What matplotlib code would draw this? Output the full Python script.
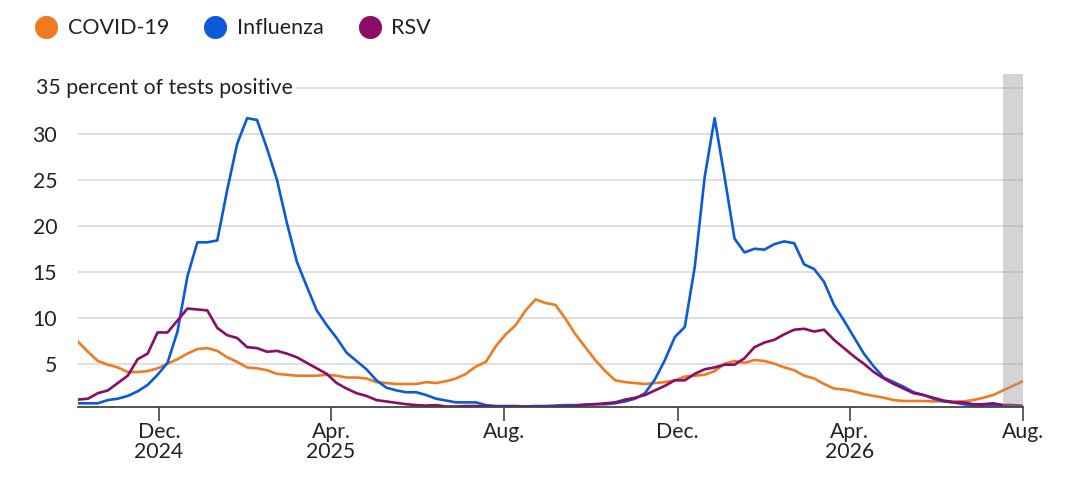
import pandas as pd
import matplotlib
matplotlib.use("Agg")
import matplotlib.pyplot as plt
from matplotlib.lines import Line2D
from matplotlib.transforms import blended_transform_factory

plt.rcParams['font.family'] = ['Lato', 'DejaVu Sans']

# weekly data, week ending Saturday
dates = pd.date_range('2024-10-05', '2026-08-01', freq='7D')

covid = [7.4, 6.3, 5.3, 4.9, 4.6, 4.1, 4.1, 4.2, 4.5, 5.0,
         5.5, 6.1, 6.6, 6.7, 6.4, 5.7, 5.2, 4.6, 4.5, 4.3,
         3.9, 3.8, 3.7, 3.7, 3.7, 3.8, 3.7, 3.5, 3.5, 3.4,
         3.0, 2.9, 2.8, 2.8, 2.8, 3.0, 2.9, 3.1, 3.4, 3.9,
         4.7, 5.2, 6.9, 8.2, 9.2, 10.8, 12.0, 11.6, 11.4, 9.9,
         8.2, 6.8, 5.4, 4.2, 3.2, 3.0, 2.9, 2.8, 2.9, 3.0,
         3.2, 3.6, 3.7, 3.8, 4.2, 5.0, 5.3, 5.1, 5.4, 5.3,
         5.0, 4.6, 4.3, 3.7, 3.4, 2.8, 2.3, 2.2, 2.0, 1.7,
         1.5, 1.3, 1.05, 0.95, 0.95, 0.95, 0.9, 0.95, 0.9, 0.9,
         1.05, 1.3, 1.6, 2.1, 2.6, 3.1]

influenza = [0.7, 0.7, 0.7, 1.05, 1.2, 1.5, 2.0, 2.7, 3.8, 5.1,
             8.5, 14.5, 18.2, 18.2, 18.4, 23.9, 28.9, 31.7, 31.5, 28.4,
             25.0, 20.3, 16.1, 13.4, 10.8, 9.2, 7.8, 6.2, 5.3, 4.4,
             3.2, 2.4, 2.1, 1.9, 1.9, 1.6, 1.2, 1.0, 0.8, 0.8,
             0.8, 0.5, 0.4, 0.4, 0.4, 0.35, 0.4, 0.4, 0.45, 0.5,
             0.5, 0.55, 0.6, 0.6, 0.7, 0.9, 1.2, 1.8, 3.3, 5.4,
             7.9, 9.0, 15.5, 25.3, 31.7, 25.3, 18.6, 17.1, 17.5, 17.4,
             18.0, 18.3, 18.1, 15.8, 15.3, 13.9, 11.4, 9.7, 7.9, 6.1,
             4.7, 3.5, 3.0, 2.5, 1.9, 1.6, 1.2, 0.9, 0.8, 0.6,
             0.45, 0.45, 0.5, 0.5, 0.5, 0.4]

rsv = [1.1, 1.2, 1.8, 2.1, 2.9, 3.7, 5.5, 6.1, 8.4, 8.4,
       9.7, 11.0, 10.9, 10.8, 8.9, 8.1, 7.8, 6.8, 6.7, 6.3,
       6.4, 6.1, 5.7, 5.1, 4.5, 3.9, 2.9, 2.3, 1.8, 1.5,
       1.05, 0.9, 0.75, 0.6, 0.5, 0.45, 0.5, 0.35, 0.35, 0.4,
       0.4, 0.35, 0.33, 0.35, 0.35, 0.33, 0.33, 0.33, 0.33, 0.35,
       0.4, 0.55, 0.6, 0.7, 0.8, 1.1, 1.3, 1.6, 2.1, 2.6,
       3.2, 3.2, 3.9, 4.4, 4.6, 4.9, 4.9, 5.6, 6.8, 7.3,
       7.6, 8.2, 8.7, 8.8, 8.5, 8.7, 7.6, 6.7, 5.8, 5.0,
       4.1, 3.4, 2.8, 2.3, 1.8, 1.6, 1.3, 1.0, 0.8, 0.8,
       0.6, 0.6, 0.7, 0.5, 0.5, 0.4]

series_names = ['COVID-19', 'Influenza', 'RSV']
series_colors = ['#f07a1f', '#0b5ad9', '#8a0c66']

tick_dates = pd.to_datetime(['2024-12-01', '2025-04-01', '2025-08-01',
                             '2025-12-01', '2026-04-01', '2026-08-01'])
tick_labels = ['Dec.\n2024', 'Apr.\n2025', 'Aug.', 'Dec.', 'Apr.\n2026', 'Aug.']
y_ticks = [5, 10, 15, 20, 25, 30]

text_color = '#222222'

fig = plt.figure(figsize=(10.8, 4.86), dpi=100)
ax = fig.add_axes([78 / 1080, 1 - 406.7 / 486, 945 / 1080, (406.7 - 74) / 486])

for vals, name, col in zip([covid, influenza, rsv], series_names, series_colors):
    ax.plot(dates, vals, color=col, lw=1.9, label=name, zorder=3)

# shaded provisional weeks at the end
ax.axvspan(dates[-1] - pd.Timedelta(days=14), dates[-1], color='#9a9a9a',
           alpha=0.42, lw=0, zorder=4)

ax.set_xlim(dates[0], dates[-1])
ax.set_ylim(0.33, 36.5)

# gridlines
for y in y_ticks + [35]:
    ax.axhline(y, color='#dcdcdc', lw=1.3, zorder=1)

ax.set_yticks(y_ticks)
ax.set_yticklabels([str(v) for v in y_ticks])
ax.tick_params(axis='y', length=0, pad=15, labelsize=15.3, labelcolor=text_color)

trans = blended_transform_factory(fig.transFigure, ax.transData)
ax.text(36 / 1080, 35, '35 percent of tests positive', transform=trans,
        ha='left', va='center', fontsize=15.3, color=text_color, zorder=5,
        bbox=dict(facecolor='white', edgecolor='none', pad=2))

ax.set_xticks(tick_dates)
ax.set_xticklabels(tick_labels, linespacing=1.0)
ax.tick_params(axis='x', length=10, width=1.2, color='#444444', pad=1,
               labelsize=15.3, labelcolor=text_color)

for s in ['top', 'right', 'left']:
    ax.spines[s].set_visible(False)
ax.spines['bottom'].set_color('#444444')
ax.spines['bottom'].set_linewidth(1.3)
ax.spines['bottom'].set_zorder(6)

handles = [Line2D([], [], marker='o', linestyle='', markersize=16,
                  markerfacecolor=c, markeredgecolor=c, markeredgewidth=0.6)
           for c in series_colors]
fig.legend(handles, series_names, loc='upper left',
           bbox_to_anchor=(18 / 1080, 1 - 1 / 486),
           ncol=3, frameon=False, fontsize=15.5, handlelength=1.0,
           handletextpad=0.5, columnspacing=1.65, labelcolor=text_color,
           borderaxespad=0.4)

fig.savefig('out.png', dpi=100)
